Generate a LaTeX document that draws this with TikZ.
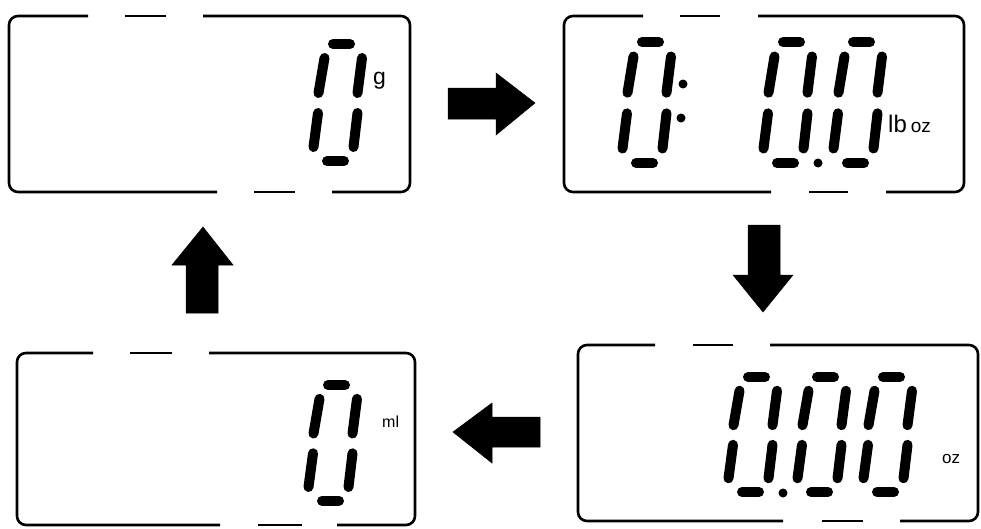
\documentclass[tikz,border=0pt]{standalone}
\usepackage{fontspec}
\setmainfont{Liberation Sans}
\tikzset{
  frame/.style={line width=2.6pt, line cap=butt, rounded corners=9pt},
  gapdash/.style={line width=2.6pt},
  seg/.style={line width=10pt, line cap=round},
  blockarrow/.style={fill=black, draw=black, line width=0.5pt},
  unit/.style={inner sep=0pt, anchor=base west}
}
\newcommand{\lcddig}[3]{%
\begin{scope}[shift={(#1,#2)},yscale=#3]
\draw[seg] (5,0)--(22,0);
\draw[seg] (-3.5,14)--(-9.5,49);
\draw[seg] (34,14)--(29.5,49);
\draw[seg] (-10,69)--(-14.5,103);
\draw[seg] (29.5,69)--(25.5,103);
\draw[seg] (-1,117)--(16,117);
\end{scope}}
\begin{document}
\begin{tikzpicture}[x=1pt,y=-1pt]
\useasboundingbox (0,0) rectangle (981,528);
% Panel 1 (g)
\draw[frame] (88,16) -- (9,16) -- (9,192) -- (217,192);
\draw[gapdash] (125,16) -- (166,16);
\draw[gapdash] (254,192) -- (295,192);
\draw[frame] (203,16) -- (410,16) -- (410,192) -- (332,192);
\lcddig{328}{44}{1}
\node[unit, font=\fontsize{23}{23}\selectfont] (g) at (373,84) {g};
% Panel 2 (lb oz)
\draw[frame] (643,16) -- (564,16) -- (564,192) -- (771,192);
\draw[gapdash] (680,16) -- (720,16);
\draw[gapdash] (809,192) -- (848,192);
\draw[frame] (758,16) -- (964,16) -- (964,192) -- (886,192);
\lcddig{637}{42}{1.034}
\lcddig{778}{42}{1.034}
\lcddig{848}{42}{1.034}
\fill (683,84) circle (4.5);
\fill (681,118) circle (4.5);
\fill (818,163) circle (4.5);
\node[unit] (lboz) at (888,132) {\fontsize{24}{24}\selectfont lb\,\fontsize{19}{19}\selectfont oz};
% Panel 3 (ml)
\draw[frame] (93,353) -- (17,353) -- (17,525) -- (220,525);
\draw[gapdash] (130,353) -- (172,353);
\draw[gapdash] (258,525) -- (302,525);
\draw[frame] (209,353) -- (415,353) -- (415,525) -- (337,525);
\lcddig{323}{385}{0.99}
\node[unit, font=\fontsize{16}{16}\selectfont] (ml) at (382,427) {ml};
% Panel 4 (oz)
\draw[frame] (655,345) -- (578,345) -- (578,521) -- (783,521);
\draw[gapdash] (693,345) -- (733,345);
\draw[gapdash] (822,521) -- (863,521);
\draw[frame] (770,345) -- (978,345) -- (978,521) -- (900,521);
\lcddig{743}{377}{0.983}
\lcddig{812}{377}{0.983}
\lcddig{878}{377}{0.983}
\fill (783,493) circle (4.5);
\node[unit, font=\fontsize{17}{17}\selectfont] (oz) at (942,463) {oz};
% Arrows
\filldraw[blockarrow] (186,313)--(186,265)--(172,265)--(203,227)--(233,265)--(218,265)--(218,313)--cycle;
\filldraw[blockarrow] (448,88)--(496,88)--(496,73)--(535,103)--(496,135)--(496,119)--(448,119)--cycle;
\filldraw[blockarrow] (748,225)--(780,225)--(780,275)--(793,275)--(763,312)--(733,275)--(748,275)--cycle;
\filldraw[blockarrow] (540,417)--(492,417)--(492,403)--(453,432)--(492,463)--(492,447)--(540,447)--cycle;
\end{tikzpicture}
\end{document}
